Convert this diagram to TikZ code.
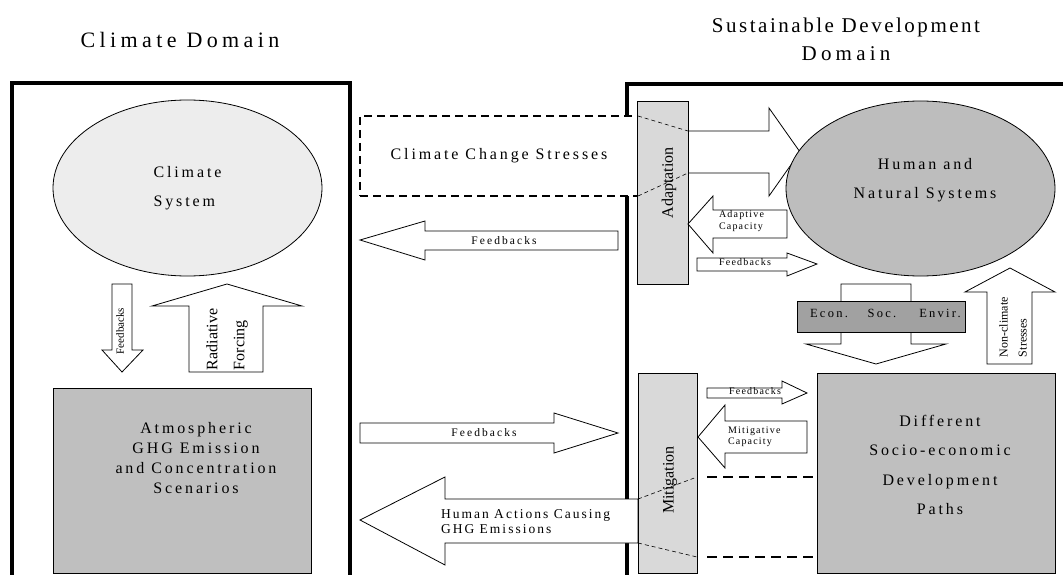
\documentclass[tikz,border=0pt]{standalone}
\usepackage{fontspec}
\setmainfont{Liberation Serif}
\newfontfamily\trkT[LetterSpace=20]{Liberation Serif}
\newfontfamily\trkS[LetterSpace=12]{Liberation Serif}
\newfontfamily\trk[LetterSpace=18]{Liberation Serif}
\newfontfamily\trkb[LetterSpace=12]{Liberation Serif}
\newfontfamily\trkc[LetterSpace=15]{Liberation Serif}
\usetikzlibrary{shapes.geometric}
\definecolor{climfill}{gray}{0.93}
\definecolor{hnsfill}{gray}{0.74}
\definecolor{boxfill}{gray}{0.75}
\definecolor{sidefill}{gray}{0.85}
\definecolor{econfill}{gray}{0.63}
\tikzset{
  every node/.style={outer sep=0pt},
  frame/.style={line width=4pt},
  thinline/.style={draw=black, line width=0.8pt},
  barrow/.style={draw=black, line width=0.8pt, fill=white, line join=miter},
  ccsbox/.style={draw=black, fill=white, line width=2.5pt, dash pattern=on 8pt off 5pt, inner sep=0pt},
  thindash/.style={draw=black, line width=0.6pt, dash pattern=on 4pt off 3pt},
  thickdash/.style={draw=black, line width=2.5pt, dash pattern=on 10pt off 6pt},
  sidebox/.style={draw=black, line width=0.8pt, fill=sidefill, inner sep=0pt},
  graybox/.style={draw=black, line width=0.8pt, fill=boxfill, inner sep=0pt},
  econbox/.style={draw=black, line width=0.8pt, fill=econfill, inner sep=0pt, minimum width=168pt, minimum height=31pt},
  titletext/.style={font=\trkT\fontsize{22}{28}\selectfont, inner sep=0pt, align=center},
  titletextR/.style={font=\trkS\fontsize{21}{28}\selectfont, inner sep=0pt, align=center},
  bigtext/.style={font=\trk\fontsize{16}{29.5}\selectfont, inner sep=0pt, align=center},
  atmtext/.style={font=\trk\fontsize{16}{20}\selectfont, inner sep=0pt, align=center},
  midtext/.style={font=\trk\fontsize{11.5}{14}\selectfont, inner sep=0pt},
  hatext/.style={font=\trkc\fontsize{13.5}{15}\selectfont, inner sep=0pt, align=left, anchor=west},
  smalltext/.style={font=\trkb\fontsize{10}{11.5}\selectfont, inner sep=0pt},
  econtext/.style={font=\trk\fontsize{12.5}{14}\selectfont, inner sep=0pt},
  rotlabel/.style={rotate=90, inner sep=0pt, font=\rmfamily\fontsize{16}{20}\selectfont},
}
\begin{document}
\begin{tikzpicture}[x=1pt,y=-1pt]
\useasboundingbox (0,0) rectangle (1063,575);
\fill[white] (0,0) rectangle (1063,575);

% titles
\node[titletext] (tcd) at (180,40) {Climate Domain};
\node[titletextR] (tsd) at (846,39) {Sustainable Development\\{\trkT Domain}};

% domain frames
\draw[frame] (12,580) -- (12,83) -- (350,83) -- (350,580);
\draw[frame] (627,580) -- (627,84) -- (1070,84);

% climate change stresses box
\node[ccsbox, minimum width=278pt, minimum height=80pt,
      font=\trk\fontsize{16}{20}\selectfont] (ccs) at (499,156) {Climate Change Stresses};

% human actions arrow
\coordinate (h1) at (638,499);
\coordinate (h2) at (638,543);
\draw[barrow] (h1) -- (445,499) -- (445,477) -- (360,520) -- (445,565) -- (445,543) -- (h2) -- cycle;

% adaptation and mitigation boxes
\node[sidebox, minimum width=51pt, minimum height=183pt] (adapt) at (662.5,192.5) {};
\node[sidebox, minimum width=59pt, minimum height=200pt] (mitig) at (667.5,473) {};
\node[rotlabel] (adaptt) at (669,183) {Adaptation};
\node[rotlabel] (mitigt) at (670,480) {Mitigation};

% climate stresses arrow into human and natural systems
\coordinate (sa1) at (688,131);
\coordinate (sa2) at (688,173);
\draw[thindash] (ccs.north east) -- (sa1);
\draw[thindash] (ccs.south east) -- (sa2);
\draw[thinline] (sa1) -- (769,131) -- (769,108) -- (800,152) -- (769,196) -- (769,173) -- (sa2);

% human and natural systems
\node[ellipse, draw=black, line width=0.8pt, fill=hnsfill, minimum width=269pt, minimum height=175pt, inner sep=0pt] (hns) at (920.5,188.5) {};
\node[bigtext] (hnst) at (925,180) {Human and\\Natural Systems};

% adaptive capacity
\draw[barrow] (787,210) -- (713,210) -- (713,196) -- (688,224) -- (713,253) -- (713,238) -- (787,238) -- cycle;
\node[smalltext, anchor=west, align=left] (adcap) at (719,221) {Adaptive\\Capacity};

% feedbacks adaptation -> systems
\draw[barrow] (697,258) -- (787,258) -- (787,253) -- (817,264) -- (787,276) -- (787,271) -- (697,271) -- cycle;
\node[smalltext] (fba) at (745,262) {Feedbacks};

% econ soc envir
\draw[barrow] (841,284) -- (911,284) -- (911,344) -- (946,344) -- (876,364) -- (806,344) -- (841,344) -- cycle;
\node[econbox] (econ) at (881,316.5) {};
\node[econtext] (econa) at (829,313) {Econ.};
\node[econtext] (econb) at (882,313) {Soc.};
\node[econtext] (econc) at (940,313) {Envir.};

% non-climate stresses
\draw[barrow] (987,364) -- (987,292) -- (965,292) -- (1010,268) -- (1055,292) -- (1032,292) -- (1032,364) -- cycle;
\node[rotate=90, anchor=west, align=left, inner sep=0pt, font=\rmfamily\fontsize{12}{19}\selectfont] (ncs) at (1013,357) {Non-climate\\Stresses};

% different socio-economic development paths
\node[graybox, minimum width=238pt, minimum height=200pt] (dsp) at (936,473) {};
\node[bigtext] (dspt) at (940,465) {Different\\Socio-economic\\Development\\Paths};

% feedbacks mitigation -> paths
\draw[barrow] (707,388) -- (782,388) -- (782,381) -- (807,393) -- (782,404) -- (782,398) -- (707,398) -- cycle;
\node[smalltext] (fbm) at (755,391) {Feedbacks};

% mitigative capacity
\draw[barrow] (807,421) -- (725,421) -- (725,405) -- (698,437) -- (725,468) -- (725,453) -- (807,453) -- cycle;
\node[smalltext, anchor=west, align=left] (mcap) at (728,437) {Mitigative\\Capacity};

% dashed links mitigation -> paths
\coordinate (m1) at (697,477);
\coordinate (m2) at (697,557);
\coordinate (m1b) at (707,477);
\coordinate (m2b) at (707,557);
\draw[thindash] (h1) -- (m1);
\draw[thindash] (h2) -- (m2);
\draw[thickdash] (m1b) -- (dsp.west |- m1);
\draw[thickdash] (m2b) -- (dsp.west |- m2);

% climate domain contents
\node[ellipse, draw=black, line width=0.8pt, fill=climfill, minimum width=269pt, minimum height=176pt, inner sep=0pt,
      font=\trk\fontsize{16}{29.5}\selectfont, align=left] (climsys) at (187.5,188) {Climate\\System};
\node[graybox, minimum width=258pt, minimum height=185pt] (atmo) at (182,480.5) {};
\node[atmtext] (atmot) at (196,458) {Atmospheric\\GHG Emission\\and Concentration\\Scenarios};

% feedbacks down
\draw[barrow] (112,284) -- (132,284) -- (132,350) -- (143,350) -- (122,372) -- (102,350) -- (112,350) -- cycle;
\node[rotate=90, inner sep=0pt, font=\rmfamily\fontsize{11}{13}\selectfont] (fbd) at (120,331) {Feedbacks};

% radiative forcing up
\draw[barrow] (189,372) -- (189,306) -- (152,306) -- (227,284) -- (302,306) -- (263,306) -- (263,372) -- cycle;
\node[rotate=90, anchor=west, align=left, inner sep=0pt, font=\rmfamily\fontsize{16}{27}\selectfont] (radf) at (227,370) {Radiative\\Forcing};

% middle feedback arrows
\draw[barrow] (618,231) -- (425,231) -- (425,221) -- (360,240) -- (425,260) -- (425,250) -- (618,250) -- cycle;
\node[midtext] (fbl) at (504,241) {Feedbacks};
\draw[barrow] (360,423) -- (554,423) -- (554,413) -- (618,433) -- (554,453) -- (554,443) -- (360,443) -- cycle;
\node[midtext] (fbr) at (484,433) {Feedbacks};

% human actions text
\node[hatext] (hat) at (441,522) {Human Actions Causing\\GHG Emissions};
\end{tikzpicture}
\end{document}
